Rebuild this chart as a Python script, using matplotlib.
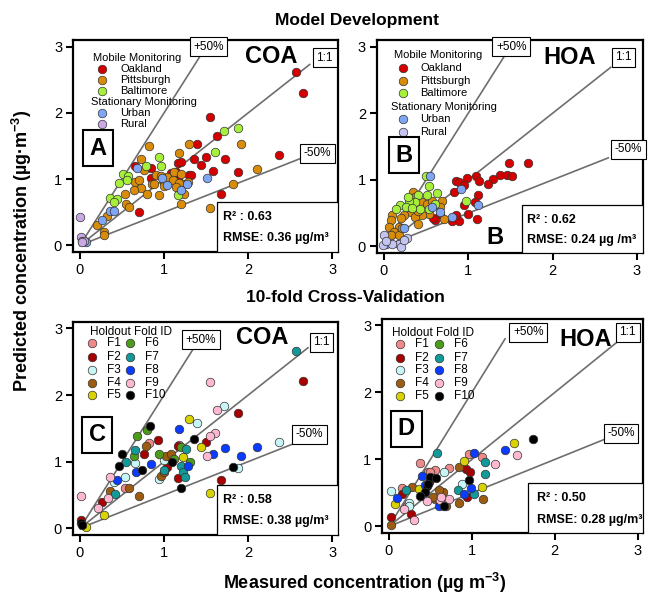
import matplotlib
matplotlib.use("Agg")
import matplotlib.pyplot as plt

plt.rcParams['font.family'] = ['Liberation Sans', 'DejaVu Sans']
plt.rcParams['mathtext.fontset'] = 'custom'
plt.rcParams['mathtext.rm'] = 'Liberation Sans'
plt.rcParams['mathtext.bf'] = 'Liberation Sans:bold'

# ---- data: panel A (COA, model development) ----
a_oak_x = [2.57, 2.65, 1.54, 1.63, 1.39, 1.35, 1.50, 1.44, 1.72, 1.58, 1.88, 2.36, 1.68, 1.16, 1.20, 1.08, 1.16, 1.30, 0.84, 0.84, 0.70, 0.66, 1.10, 1.14, 1.32]
a_oak_y = [2.61, 2.30, 1.94, 1.65, 1.53, 1.30, 1.34, 1.21, 1.30, 1.12, 1.11, 1.37, 0.77, 1.24, 1.26, 1.09, 0.98, 1.06, 1.16, 1.01, 0.50, 1.19, 1.06, 1.11, 1.06]
a_pit_x = [0.82, 1.30, 1.92, 1.18, 0.72, 2.10, 1.82, 1.54, 1.20, 1.24, 0.94, 0.76, 0.66, 0.72, 0.64, 0.54, 0.55, 0.58, 0.86, 0.90, 1.00, 1.04, 1.12, 1.20, 1.22, 1.28, 0.32, 0.20, 0.28, 0.28, 0.80, 1.00, 0.96, 0.70, 1.10, 1.18, 1.14, 0.88]
a_pit_y = [1.50, 1.53, 1.53, 1.40, 1.31, 1.15, 0.92, 0.56, 0.62, 0.77, 0.76, 1.14, 0.96, 0.86, 0.83, 0.77, 0.63, 0.58, 0.93, 1.06, 0.96, 1.03, 1.11, 1.07, 0.93, 0.96, 0.45, 0.31, 0.20, 0.16, 0.78, 0.89, 1.04, 0.98, 0.98, 0.94, 0.88, 0.93]
a_bal_x = [1.88, 1.71, 1.60, 0.94, 0.96, 0.78, 0.51, 0.57, 0.56, 0.47, 0.36, 0.44, 0.40, 1.16]
a_bal_y = [1.77, 1.72, 1.41, 1.33, 1.20, 1.20, 1.08, 1.05, 0.98, 0.94, 0.72, 0.70, 0.66, 0.76]
a_urb_x = [0.68, 0.98, 1.04, 1.20, 1.27, 1.51, 0.36, 0.41, 0.26, 0.04, 0.07]
a_urb_y = [1.16, 1.01, 0.91, 0.83, 0.92, 1.01, 0.52, 0.52, 0.38, 0.08, 0.05]
a_rur_x = [0.00, 0.01, 0.02, 0.05, 0.03]
a_rur_y = [0.42, 0.12, 0.07, 0.07, 0.05]

# ---- panel B (HOA, model development) ----
b_oak_x = [1.48, 1.71, 1.38, 1.46, 1.52, 1.29, 1.24, 1.09, 1.13, 0.99, 0.85, 0.89, 0.95, 0.83, 1.12, 1.08, 0.95, 1.00, 1.10, 0.81, 0.89, 0.85, 0.61, 0.58, 0.67]
b_oak_y = [1.26, 1.25, 1.08, 1.08, 1.06, 1.01, 0.94, 1.06, 0.99, 1.03, 0.99, 0.97, 0.92, 0.82, 0.78, 0.67, 0.62, 0.49, 0.41, 0.38, 0.38, 0.47, 0.39, 0.42, 0.48]
b_pit_x = [0.34, 0.37, 0.45, 0.51, 0.57, 0.69, 0.67, 0.53, 0.45, 0.32, 0.28, 0.24, 0.20, 0.10, 0.08, 0.06, 0.18, 0.12, 0.08, 0.37, 0.41, 0.34, 0.71, 0.41, 0.18, 0.22]
b_pit_y = [0.82, 0.74, 0.67, 0.64, 0.69, 0.69, 0.59, 0.49, 0.47, 0.52, 0.59, 0.47, 0.42, 0.47, 0.39, 0.29, 0.29, 0.22, 0.17, 0.44, 0.54, 0.62, 0.41, 0.34, 0.17, 0.27]
b_bal_x = [0.50, 0.53, 0.63, 0.51, 0.41, 0.37, 0.43, 0.53, 0.61, 0.30, 0.19, 0.14, 0.29, 0.97, 0.26, 0.33]
b_bal_y = [1.06, 0.91, 0.81, 0.77, 0.77, 0.67, 0.57, 0.57, 0.64, 0.69, 0.62, 0.56, 0.74, 0.68, 0.60, 0.58]
b_urb_x = [0.55, 0.91, 0.66, 1.12, 0.81, 0.24, 0.57, 0.03]
b_urb_y = [1.06, 0.87, 0.52, 0.62, 0.44, 0.27, 0.59, 0.03]
b_rur_x = [0.00, -0.01, 0.18, 0.20, 0.28, 0.24, 0.10, 0.02]
b_rur_y = [0.17, 0.02, 0.03, -0.01, 0.12, 0.09, 0.04, 0.08]

# ---- panel C (COA, 10-fold CV), per holdout fold ----
c_x = [
    [0.82, 0.54, 1.18],
    [2.65, 1.88, 1.50, 0.93, 0.76, 1.04, 1.16, 1.68, 0.26, 0.01, 1.16],
    [1.71, 1.39, 2.36, 1.88, 0.66, 0.54, 0.40, 1.00, 0.94],
    [0.79, 0.36, 0.58, 0.70, 1.02, 0.96, 1.00, 1.08],
    [1.30, 1.44, 1.54, 0.29, 0.07, 1.22],
    [0.80, 0.68, 0.64, 0.94, 1.20, 1.31, 1.12],
    [2.57, 0.66, 0.55, 0.42, 1.00, 1.26, 1.20, 1.22, 1.25],
    [1.18, 1.72, 1.58, 1.92, 2.10, 0.67, 0.44, 0.84, 1.29],
    [1.54, 1.63, 1.60, 1.54, 1.51, 0.36, 0.33, 0.21, 0.01],
    [1.35, 1.82, 1.20, 0.83, 0.50, 0.46, 0.74, 0.01, 1.09, 0.02],
]
c_y = [
    [1.28, 0.61, 1.25],
    [2.21, 1.73, 1.30, 1.32, 1.12, 0.92, 0.76, 0.72, 0.39, 0.13, 1.24],
    [1.83, 1.58, 1.29, 0.90, 0.98, 0.77, 0.69, 1.02, 0.74],
    [1.24, 0.56, 0.61, 0.49, 1.08, 0.79, 0.84, 1.12],
    [1.64, 1.22, 0.53, 0.20, 0.02, 1.07],
    [1.48, 1.38, 1.08, 1.12, 1.22, 0.99, 1.04],
    [2.66, 1.18, 0.99, 0.51, 0.88, 1.19, 0.94, 0.84, 0.77],
    [1.49, 1.21, 1.12, 1.09, 1.22, 0.84, 0.73, 0.97, 0.93],
    [2.20, 1.78, 1.43, 1.38, 1.08, 0.77, 0.46, 0.30, 0.49],
    [1.34, 0.92, 0.61, 1.54, 1.11, 0.94, 0.87, 0.08, 0.99, 0.05],
]

# ---- panel D (HOA, 10-fold CV), per holdout fold ----
d_x = [
    [0.97, 1.12, 0.38, 0.47, 0.56, 0.73, 0.16, 0.20, 0.22, 0.50],
    [0.93, 0.98, 0.94, 0.16, 0.02, 0.26],
    [0.67, 0.88, 0.02, 0.24, 0.24, 0.50],
    [0.85, 1.13, 0.85, 0.28, 0.02, 0.65, 0.69, 0.55, 0.53, 0.60],
    [1.51, 0.90, 1.12, 0.07, 0.42, 0.36],
    [0.45],
    [0.58, 1.16, 1.16, 0.83, 1.03, 0.42, 0.20],
    [1.40, 1.02, 0.91, 0.99, 0.40, 0.10, 0.60, 0.44],
    [1.55, 1.28, 0.30, 0.62, 0.73, 0.46, 0.63, 0.18],
    [1.74, 0.97, 0.67, 0.48, 0.46, 0.44, 0.50, 0.57, 0.38, 0.47],
]
d_y = [
    [1.08, 1.04, 0.95, 0.81, 0.84, 0.87, 0.57, 0.27, 0.30, 0.82],
    [0.86, 0.81, 0.44, 0.48, 0.14, 0.18],
    [0.81, 0.64, 0.53, 0.35, 0.31, 0.72],
    [0.89, 0.41, 0.35, 0.59, 0.02, 0.51, 0.30, 0.41, 0.44, 0.55],
    [1.25, 0.97, 0.59, 0.34, 0.52, 0.56],
    [0.60],
    [1.10, 0.96, 0.78, 0.54, 0.48, 0.46, 0.55],
    [1.14, 1.09, 0.49, 0.58, 0.76, 0.43, 0.31, 0.62],
    [1.06, 0.93, 0.09, 0.40, 0.41, 0.38, 0.44, 0.26],
    [1.31, 0.69, 0.30, 0.66, 0.61, 0.51, 0.74, 0.72, 0.46, 0.64],
]

site_names = ['Oakland', 'Pittsburgh', 'Baltimore', 'Urban', 'Rural']
site_colors_a = ['#d40000', '#d98c0a', '#a6f03c', '#7fa6f2', '#c9a8e6']
site_colors_b = ['#d40000', '#d98c0a', '#a6f03c', '#7fa6f2', '#c4c4f2']
fold_names = ['F1', 'F2', 'F3', 'F4', 'F5', 'F6', 'F7', 'F8', 'F9', 'F10']
fold_colors = ['#f08a8a', '#a80000', '#c8f6f6', '#9c5c12', '#d8d200',
               '#4c9c1c', '#129a9a', '#0a3cff', '#ffb8d2', '#000000']

ref_slopes = [2.0, 1.0, 0.5]
ref_labels = ['+50%', '1:1', '-50%']

fig = plt.figure(figsize=(6.48, 5.97), dpi=100)
ax_a = fig.add_axes([0.113, 0.578, 0.409, 0.355])
ax_b = fig.add_axes([0.582, 0.576, 0.410, 0.357])
ax_c = fig.add_axes([0.113, 0.104, 0.409, 0.357])
ax_d = fig.add_axes([0.590, 0.107, 0.403, 0.359])

MS = 38


def style_axes(ax):
    ax.set_xlim(-0.08, 3.07)
    ax.set_ylim(-0.1, 3.1)
    ax.set_xticks([0, 1, 2, 3])
    ax.set_yticks([0, 1, 2, 3])
    ax.tick_params(direction='out', length=5, width=1.5, labelsize=10.5, pad=3)
    for s in ax.spines.values():
        s.set_linewidth(1.6)


def ref_lines(ax, x_ends, label_pos):
    for slope, xe, lab, (lx, ly) in zip(ref_slopes, x_ends, ref_labels, label_pos):
        ax.plot([0, xe], [0, slope * xe], color='#6e6e6e', lw=1.2, zorder=1)
        ax.text(lx, ly, lab, fontsize=8.5, ha='center', va='center', zorder=5,
                bbox=dict(boxstyle='square,pad=0.3', fc='white', ec='black', lw=0.8))


def stats_box(ax, left, top, r2, rmse, tx):
    ax.add_patch(plt.Rectangle((left, 0), 1 - left, top, transform=ax.transAxes,
                               fc='white', ec='black', lw=0.9, zorder=4))
    ax.text(tx, top * 0.70, r2, transform=ax.transAxes, fontsize=9,
            fontweight='bold', va='center', zorder=5)
    ax.text(tx, top * 0.27, rmse, transform=ax.transAxes, fontsize=9,
            fontweight='bold', va='center', zorder=5)


def letter_box(ax, x, y, letter):
    ax.text(x, y, letter, transform=ax.transAxes, fontsize=17, fontweight='bold',
            ha='center', va='center', zorder=5,
            bbox=dict(boxstyle='square,pad=0.28', fc='white', ec='black', lw=1.5))


def site_legend(ax, colors, hx, hy, mx, tx, rows, shx):
    ax.text(hx, hy, 'Mobile Monitoring', transform=ax.transAxes, fontsize=8, va='center')
    ax.text(shx, rows[3], 'Stationary Monitoring', transform=ax.transAxes, fontsize=8, va='center')
    ys = [rows[0], rows[1], rows[2], rows[4], rows[5]]
    for name, c, yy in zip(site_names, colors, ys):
        ax.scatter(mx, yy, s=MS, color=c, edgecolors='#333333', linewidths=0.5,
                   transform=ax.transAxes, clip_on=False, zorder=5)
        ax.text(tx, yy, name, transform=ax.transAxes, fontsize=8, va='center')


def fold_legend(ax, hx, hy, cols, rows):
    ax.text(hx, hy, 'Holdout Fold ID', transform=ax.transAxes, fontsize=8.5, va='center')
    for i, (name, c) in enumerate(zip(fold_names, fold_colors)):
        mx, tx = cols[i // 5]
        yy = rows[i % 5]
        ax.scatter(mx, yy, s=MS, color=c, edgecolors='#333333', linewidths=0.5,
                   transform=ax.transAxes, clip_on=False, zorder=5)
        ax.text(tx, yy, name, transform=ax.transAxes, fontsize=8.5, va='center')


# ---- panel A ----
style_axes(ax_a)
ref_lines(ax_a, [1.43, 2.73, 2.63], [(1.53, 3.0), (2.91, 2.83), (2.82, 1.39)])
for xs, ys, c in zip([a_oak_x, a_pit_x, a_bal_x, a_urb_x, a_rur_x],
                     [a_oak_y, a_pit_y, a_bal_y, a_urb_y, a_rur_y], site_colors_a):
    ax_a.scatter(xs, ys, s=MS, color=c, edgecolors='#333333', linewidths=0.5, zorder=3)
site_legend(ax_a, site_colors_a, 0.075, 0.915, 0.109, 0.177,
            [0.863, 0.811, 0.759, 0.708, 0.656, 0.604], 0.068)
ax_a.text(0.747, 0.92, 'COA', transform=ax_a.transAxes, fontsize=17,
          fontweight='bold', ha='center', va='center')
letter_box(ax_a, 0.094, 0.49, 'A')
stats_box(ax_a, 0.543, 0.236, 'R² : 0.63', 'RMSE: 0.36 µg/m³', 0.566)

# ---- panel B ----
style_axes(ax_b)
ref_lines(ax_b, [1.42, 2.69, 2.66], [(1.51, 3.0), (2.84, 2.84), (2.9, 1.46)])
for xs, ys, c in zip([b_oak_x, b_pit_x, b_bal_x, b_urb_x, b_rur_x],
                     [b_oak_y, b_pit_y, b_bal_y, b_urb_y, b_rur_y], site_colors_b):
    ax_b.scatter(xs, ys, s=MS, color=c, edgecolors='#333333', linewidths=0.5, zorder=3)
site_legend(ax_b, site_colors_b, 0.064, 0.93, 0.097, 0.162,
            [0.868, 0.808, 0.751, 0.685, 0.629, 0.568], 0.053)
ax_b.text(0.726, 0.92, 'HOA', transform=ax_b.transAxes, fontsize=17,
          fontweight='bold', ha='center', va='center')
letter_box(ax_b, 0.102, 0.46, 'B')
ax_b.text(0.444, 0.075, 'B', transform=ax_b.transAxes, fontsize=17,
          fontweight='bold', ha='center', va='center')
stats_box(ax_b, 0.545, 0.225, 'R² : 0.62', 'RMSE: 0.24 µg /m³', 0.564)

# ---- panel C ----
style_axes(ax_c)
ref_lines(ax_c, [1.38, 2.71, 2.57], [(1.44, 2.83), (2.87, 2.79), (2.73, 1.41)])
for xs, ys, c in zip(c_x, c_y, fold_colors):
    ax_c.scatter(xs, ys, s=MS, color=c, edgecolors='#333333', linewidths=0.5, zorder=3)
fold_legend(ax_c, 0.064, 0.953, [(0.070, 0.127), (0.215, 0.272)],
            [0.900, 0.836, 0.775, 0.715, 0.656])
ax_c.text(0.713, 0.925, 'COA', transform=ax_c.transAxes, fontsize=17,
          fontweight='bold', ha='center', va='center')
letter_box(ax_c, 0.091, 0.469, 'C')
stats_box(ax_c, 0.543, 0.235, 'R² : 0.58', 'RMSE: 0.38 µg/m³', 0.566)

# ---- panel D ----
style_axes(ax_d)
ref_lines(ax_d, [1.40, 2.75, 2.59], [(1.68, 2.9), (2.88, 2.9), (2.8, 1.39)])
for xs, ys, c in zip(d_x, d_y, fold_colors):
    ax_d.scatter(xs, ys, s=MS, color=c, edgecolors='#333333', linewidths=0.5, zorder=3)
fold_legend(ax_d, 0.037, 0.933, [(0.069, 0.126), (0.216, 0.273)],
            [0.882, 0.819, 0.762, 0.700, 0.640])
ax_d.text(0.778, 0.902, 'HOA', transform=ax_d.transAxes, fontsize=17,
          fontweight='bold', ha='center', va='center')
letter_box(ax_d, 0.092, 0.486, 'D')
stats_box(ax_d, 0.556, 0.234, 'R² : 0.50', 'RMSE: 0.28 µg/m³', 0.594)

# ---- titles and axis labels ----
fig.text(357 / 648, 1 - 20 / 597, 'Model Development', fontsize=12.5,
         fontweight='bold', ha='center', va='center')
fig.text(345 / 648, 1 - 298 / 597, '10-fold Cross-Validation', fontsize=12.5,
         fontweight='bold', ha='center', va='center')
fig.text(22 / 648, 1 - 251 / 597, r'Predicted concentration (µg·m$^{\mathbf{-3}}$)',
         fontsize=13, fontweight='bold', rotation=90, ha='center', va='center')
fig.text(365 / 648, 1 - 583 / 597, r'Measured concentration (µg m$^{\mathbf{-3}}$)',
         fontsize=13, fontweight='bold', ha='center', va='center')

fig.savefig('out.png', dpi=100)
